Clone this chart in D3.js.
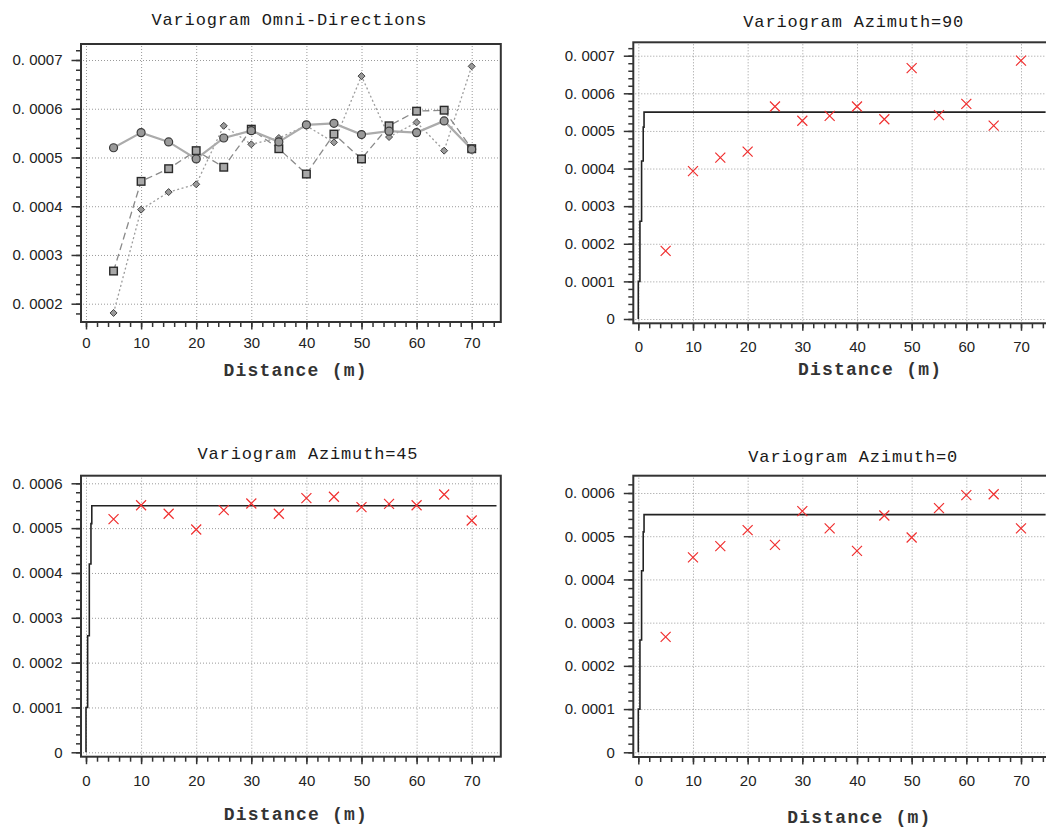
<!DOCTYPE html>
<html><head><meta charset="utf-8">
<script src="https://cdn.jsdelivr.net/npm/d3@7"></script>
<style>body{margin:0;background:#fff}svg{display:block}</style>
</head><body>
<svg id="chart" width="1046" height="830"></svg>
<script>
// ---- data ----
const distances = [5,10,15,20,25,30,35,40,45,50,55,60,65,70];
const az90 = [0.000181,0.000393,0.000429,0.000445,0.000565,0.000527,0.000540,0.000565,0.000531,0.000667,0.000542,0.000572,0.000514,0.000687];
const az45 = [0.000520,0.000551,0.000532,0.000497,0.000540,0.000555,0.000532,0.000567,0.000570,0.000547,0.000554,0.000551,0.000575,0.000517];
const az0  = [0.000267,0.000451,0.000477,0.000514,0.000480,0.000558,0.000518,0.000466,0.000548,0.000497,0.000565,0.000595,0.000597,0.000518];
const modelX = [0,0.3,0.6,0.9,1.05,74.5];
const modelY = [0,0.0001,0.00026,0.00042,0.00051,0.00055];
const xTicks = [0,10,20,30,40,50,60,70];
const yTicksOmni = [0.0002,0.0003,0.0004,0.0005,0.0006,0.0007];
const yTicks90 = [0,0.0001,0.0002,0.0003,0.0004,0.0005,0.0006,0.0007];
const yTicks6 = [0,0.0001,0.0002,0.0003,0.0004,0.0005,0.0006];
const titles = ["Variogram Omni-Directions","Variogram Azimuth=90","Variogram Azimuth=45","Variogram Azimuth=0"];
const xLabel = "Distance (m)";

// ---- layout ----
const panels = [
  {title:titles[0], omni:true, frame:{l:81,r:500.8,t:44,b:322}, xr:[86,471.7], yd:[0.0002,0.0007], yr:[303.7,60], yTicks:yTicksOmni,
   titleX:289, titleY:24.5, labX:295, labY:375.5, tickLabOff:26},
  {title:titles[1], series:az90, frame:{l:633.3,r:1048.8,t:42.3,b:323.3}, xr:[638.3,1021], yd:[0,0.0007], yr:[319,55.7], yTicks:yTicks90,
   titleX:853.3, titleY:26.5, labX:869.5, labY:375, tickLabOff:29},
  {title:titles[2], series:az45, frame:{l:81,r:500.8,t:475.7,b:756.7}, xr:[86,471.7], yd:[0,0.0006], yr:[752.3,483.3], yTicks:yTicks6,
   titleX:307.5, titleY:459, labX:295.3, labY:820, tickLabOff:29.5},
  {title:titles[3], series:az0, frame:{l:633.3,r:1048.8,t:475.7,b:757}, xr:[638.3,1021], yd:[0,0.0006], yr:[752.3,493], yTicks:yTicks6,
   titleX:852.8, titleY:462, labX:858.8, labY:822.5, tickLabOff:29}
];

const svg = d3.select("#chart");
const fmt = v => v === 0 ? "0" : d3.format(".4f")(v).replace(".", ". ");
const modelPts = modelX.map((x,i)=>[x, modelY[i]]);

panels.forEach((p,pi) => {
  const f = p.frame;
  const x = d3.scaleLinear().domain([0,70]).range(p.xr);
  const y = d3.scaleLinear().domain(p.yd).range(p.yr);
  const g = svg.append("g");
  const clipId = "clip"+pi;
  g.append("clipPath").attr("id",clipId).append("rect")
    .attr("x",f.l).attr("y",f.t).attr("width",f.r-f.l).attr("height",f.b-f.t);

  // grid
  const grid = g.append("g").attr("stroke","#9a9a9a").attr("stroke-width",1).attr("stroke-dasharray","1,2");
  grid.selectAll(".gx").data(xTicks).join("line")
    .attr("x1",d=>x(d)+0.5).attr("x2",d=>x(d)+0.5).attr("y1",f.t+2).attr("y2",f.b-1);
  grid.selectAll(".gy").data(p.yTicks).join("line")
    .attr("x1",f.l+2).attr("x2",f.r-2).attr("y1",d=>y(d)+0.5).attr("y2",d=>y(d)+0.5);

  // minor tick values
  const yMinor = d3.range(-0.0001, 0.0008, 0.00002).map(v=>+v.toFixed(6)).filter(v => y(v) >= f.t+3 && y(v) <= f.b-2);
  const xMinor = d3.range(0, 75, 2);

  // y axes
  const yMaj = g.append("g").attr("transform",`translate(${f.l},0)`)
    .call(d3.axisLeft(y).tickValues(p.yTicks).tickSize(9.5).tickPadding(9).tickFormat(fmt));
  const yMin = g.append("g").attr("transform",`translate(${f.l},0)`)
    .call(d3.axisLeft(y).tickValues(yMinor).tickSize(5).tickFormat(""));
  // x axes
  const xMaj = g.append("g").attr("transform",`translate(0,${f.b})`)
    .call(d3.axisBottom(x).tickValues(xTicks).tickSize(7.5).tickPadding(p.tickLabOff-7.5-10.7).tickFormat(d3.format("d")));
  const xMin = g.append("g").attr("transform",`translate(0,${f.b})`)
    .call(d3.axisBottom(x).tickValues(xMinor).tickSize(5).tickFormat(""));
  [yMaj,yMin,xMaj,xMin].forEach(a => {
    a.select(".domain").remove();
    a.selectAll("line").attr("stroke","#333").attr("stroke-width",1.5);
    a.selectAll("text").attr("fill","#222").style("font-family","'Liberation Sans', Arial, sans-serif").style("font-size","15px");
  });

  // frame
  g.append("rect").attr("x",f.l).attr("y",f.t).attr("width",f.r-f.l).attr("height",f.b-f.t)
    .attr("fill","none").attr("stroke","#333").attr("stroke-width",2);

  const marks = g.append("g").attr("clip-path",`url(#${clipId})`);

  if (p.omni) {
    const defs = [
      {vals:az90, stroke:"#9c9c9c", w:1.3, dash:"2,2.5", shape:"diamond"},
      {vals:az0, stroke:"#8a8a8a", w:1.3, dash:"7,4", shape:"square"},
      {vals:az45, stroke:"#ababab", w:2.2, dash:null, shape:"circle"}
    ];
    const line = d3.line().x(d=>x(d[0])).y(d=>y(d[1]));
    defs.forEach(s => {
      const pts = distances.map((d,i)=>[d, s.vals[i]]);
      marks.append("path").attr("d",line(pts)).attr("fill","none")
        .attr("stroke",s.stroke).attr("stroke-width",s.w).attr("stroke-dasharray",s.dash);
    });
    defs.forEach(s => {
      const pts = distances.map((d,i)=>[d, s.vals[i]]);
      if (s.shape === "circle") {
        marks.selectAll(null).data(pts).join("circle")
          .attr("cx",d=>x(d[0])).attr("cy",d=>y(d[1])).attr("r",4)
          .attr("fill","#9a9a9a").attr("stroke","#3a3a3a").attr("stroke-width",1.2);
      } else if (s.shape === "square") {
        marks.selectAll(null).data(pts).join("rect")
          .attr("x",d=>x(d[0])-3.8).attr("y",d=>y(d[1])-3.8).attr("width",7.6).attr("height",7.6)
          .attr("fill","#a8a8a8").attr("stroke","#2a2a2a").attr("stroke-width",1.4);
      } else {
        marks.selectAll(null).data(pts).join("path")
          .attr("d",d=>{const cx=x(d[0]), cy=y(d[1]); return `M${cx},${cy-3.5}L${cx+3.5},${cy}L${cx},${cy+3.5}L${cx-3.5},${cy}Z`;})
          .attr("fill","#9a9a9a").attr("stroke","#444").attr("stroke-width",1);
      }
    });
  } else {
    // model
    marks.append("path")
      .attr("d", d3.line().curve(d3.curveStepBefore).x(d=>x(d[0])).y(d=>y(d[1]))(modelPts))
      .attr("fill","none").attr("stroke","#222").attr("stroke-width",1.6);
    // experimental points
    const pts = distances.map((d,i)=>[d, p.series[i]]);
    marks.selectAll(null).data(pts).join("path")
      .attr("d",d=>{const cx=x(d[0]), cy=y(d[1]), s=5; return `M${cx-s},${cy-s}L${cx+s},${cy+s}M${cx-s},${cy+s}L${cx+s},${cy-s}`;})
      .attr("fill","none").attr("stroke","#f03030").attr("stroke-width",1.2);
  }

  // title
  g.append("text").attr("x",p.titleX).attr("y",p.titleY).attr("text-anchor","middle")
    .attr("textLength", p.title.length*11).attr("lengthAdjust","spacing")
    .style("font-family","'Liberation Mono', 'DejaVu Sans Mono', monospace").style("font-size","17px")
    .attr("fill","#1a1a1a").text(p.title);
  // x label
  g.append("text").attr("x",p.labX).attr("y",p.labY).attr("text-anchor","middle")
    .attr("textLength", 143).attr("lengthAdjust","spacing")
    .style("font-family","'Liberation Mono', 'DejaVu Sans Mono', monospace").style("font-size","18px").style("font-weight","bold")
    .attr("fill","#333").text(xLabel);
});
</script>
</body></html>
